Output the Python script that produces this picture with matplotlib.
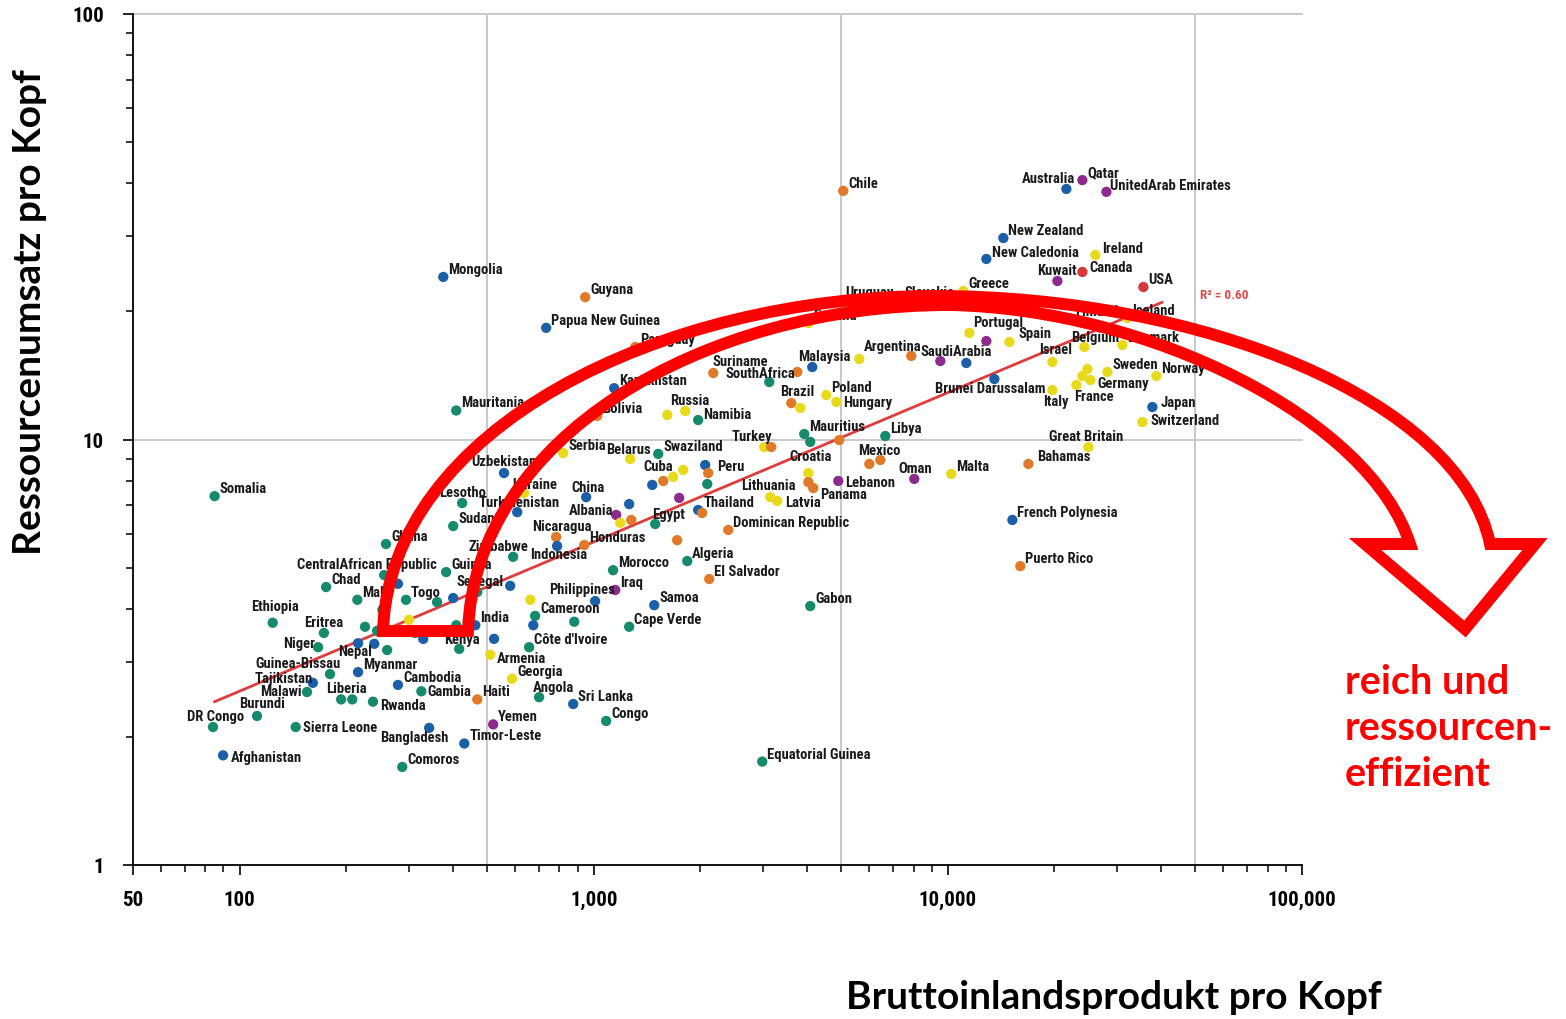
import numpy as np
import matplotlib
matplotlib.use("Agg")
import matplotlib.pyplot as plt
from matplotlib import font_manager
from matplotlib.path import Path
from matplotlib.patches import PathPatch
from matplotlib.transforms import Affine2D
from matplotlib.ticker import FixedLocator, LogLocator, NullFormatter

# ---- data (GDP per capita, resource use per capita, region) ----
countries = [
    "Somalia", "Mongolia", "Mauritania", "Guyana", "Papua New Guinea", "Paraguay",
    "Kazakhstan", "Bolivia", "Russia", "", "Namibia", "Suriname", "SouthAfrica", "",
    "Malaysia", "", "Argentina", "SaudiArabia", "", "Brazil", "", "Poland", "Hungary",
    "Chile", "Estonia", "Uruguay", "Slovakia", "", "Greece", "Portugal", "", "Spain",
    "New Caledonia", "New Zealand", "Australia", "Qatar", "UnitedArab Emirates",
    "Ireland", "Kuwait", "Canada", "USA", "Finland", "Iceland", "Belgium", "Denmark",
    "Israel", "Sweden", "Norway", "", "", "Germany", "France", "Italy",
    "Brunei Darussalam", "Japan", "Switzerland", "Great Britain", "Bahamas",
    "French Polynesia", "Puerto Rico", "Malta", "Oman", "Mexico", "", "Libya",
    "Mauritius", "", "", "Turkey", "", "Croatia", "", "Panama", "Lebanon",
    "Lithuania", "Latvia", "Gabon", "Equatorial Guinea", "", "Peru", "", "Cuba", "",
    "", "", "Swaziland", "Belarus", "Serbia", "Uzbekistan", "Ukraine", "China",
    "Lesotho", "Turkmenistan", "", "", "", "Albania", "", "Egypt", "Thailand", "",
    "Sudan", "Nicaragua", "Indonesia", "Honduras", "Dominican Republic", "",
    "Zimbabwe", "Ghana", "Guinea", "CentralAfrican Republic", "", "Chad", "Mali",
    "Togo", "", "", "Senegal", "", "Morocco", "Algeria", "El Salvador", "Iraq",
    "Philippines", "", "Cameroon", "", "", "Samoa", "Cape Verde", "India", "", "Kenya",
    "", "Côte d'Ivoire", "Armenia", "Georgia", "Angola", "Sri Lanka", "Congo", "Yemen",
    "Timor-Leste", "Haiti", "Gambia", "Cambodia", "Rwanda", "Bangladesh", "Comoros",
    "Afghanistan", "DR Congo", "Sierra Leone", "Burundi", "Liberia", "", "Malawi",
    "Tajikistan", "Guinea-Bissau", "Myanmar", "Niger", "Nepal", "", "", "Ethiopia",
    "Eritrea", "", "", "", "", "", "",
]
gdp = [
    85, 376, 409, 946, 734, 1310,
    1142, 1023, 1613, 1813, 1972, 2175, 3131, 3756,
    4141, 5621, 7882, 9521, 11274, 3613, 3830, 4535, 4841,
    5065, 4036, 6321, 9963, 12033, 11058, 11500, 12843, 14918,
    12843, 14345, 21607, 23976, 28032,
    26090, 20381, 23976, 35650, 23976, 32130, 24290, 31100,
    19724, 28213, 38800, 24770, 23976, 25260, 23060, 19724,
    13530, 37800, 35420, 24930, 16880,
    15210, 16020, 10226, 8038, 6000, 6445, 6658,
    3931, 4087, 4936, 3030, 3172, 4036, 4036, 4168, 4903,
    3150, 3298, 4087, 2991, 2064, 2105, 2092, 1571, 1677,
    1789, 1463, 1521, 1268, 820, 558, 636, 952,
    425, 608, 1259, 1743, 1157, 1188, 1276, 1491, 1972, 2024,
    401, 783, 788, 940, 2398, 1720,
    592, 259, 383, 256, 280, 175.5, 215,
    295, 361, 401, 469, 581, 1134, 1837, 2119, 1150,
    1009, 662, 683, 675, 881, 1482, 1259, 463, 523, 417,
    330, 657, 510, 588, 701, 875, 1084, 520,
    431, 469, 326, 280, 238, 343, 288,
    89.8, 84.1, 144, 112, 193.5, 208, 155,
    161, 180, 216, 166.6, 216, 240, 261, 124,
    173, 226, 244.5, 253, 301, 313, 409,
]
res = [
    7.36, 24.1, 11.7, 21.6, 18.3, 16.5,
    13.2, 11.36, 11.42, 11.67, 11.11, 14.33, 13.65, 14.41,
    14.8, 15.46, 15.72, 15.29, 15.13, 12.18, 11.86, 12.72, 12.25,
    38.4, 18.78, 20.37, 20.6, 20.71, 22.34, 17.8, 17.04, 16.95,
    26.56, 29.75, 38.8, 40.7, 38.2,
    27.14, 23.58, 24.76, 22.82, 18.78, 19.3, 16.5, 16.68,
    15.21, 14.41, 14.1, 14.64, 14.1, 13.8, 13.43, 13.07,
    13.87, 11.92, 10.99, 9.6, 8.76,
    6.47, 5.04, 8.3, 8.08, 8.76, 8.95, 10.19,
    10.3, 9.87, 9.97, 9.6, 9.6, 8.34, 7.94, 7.69, 7.99,
    7.32, 7.17, 4.06, 1.75, 8.71, 8.34, 7.86, 7.99, 8.17,
    8.48, 7.82, 9.25, 9.0, 9.29, 8.34, 7.48, 7.32,
    7.09, 6.75, 7.05, 7.29, 6.65, 6.37, 6.47, 6.33, 6.83, 6.72,
    6.26, 5.9, 5.62, 5.65, 6.13, 5.8,
    5.3, 5.68, 4.88, 4.8, 4.58, 4.5, 4.2,
    4.2, 4.15, 4.24, 4.38, 4.53, 4.93, 5.18, 4.7, 4.43,
    4.17, 4.2, 3.85, 3.66, 3.73, 4.08, 3.63, 3.66, 3.4, 3.22,
    3.4, 3.25, 3.12, 2.74, 2.48, 2.39, 2.18, 2.14,
    1.93, 2.45, 2.56, 2.65, 2.42, 2.1, 1.7,
    1.81, 2.11, 2.11, 2.24, 2.45, 2.45, 2.55,
    2.68, 2.81, 2.84, 3.25, 3.32, 3.31, 3.2, 3.71,
    3.51, 3.63, 3.55, 3.98, 3.77, 3.51, 3.66,
]
# af = Africa, as = Asia/Pacific, la = Latin America, eu = Europe,
# me = Middle East, na = North America
region = [
    "af", "as", "af", "la", "as", "la",
    "as", "la", "eu", "eu", "af", "la", "af", "la",
    "as", "eu", "la", "me", "as", "la", "eu", "eu", "eu",
    "la", "eu", "la", "eu", "eu", "eu", "eu", "me", "eu",
    "as", "as", "as", "me", "me",
    "eu", "me", "na", "na", "eu", "eu", "eu", "eu",
    "eu", "eu", "eu", "eu", "eu", "eu", "eu", "eu",
    "as", "as", "eu", "eu", "la",
    "as", "la", "eu", "me", "la", "la", "af",
    "af", "af", "la", "eu", "la", "eu", "la", "la", "me",
    "eu", "eu", "af", "af", "as", "la", "af", "la", "eu",
    "eu", "as", "af", "eu", "eu", "as", "eu", "as",
    "af", "as", "as", "me", "me", "eu", "la", "af", "as", "la",
    "af", "la", "as", "la", "la", "la",
    "af", "af", "af", "af", "as", "af", "af",
    "af", "af", "as", "af", "as", "af", "af", "la", "me",
    "as", "eu", "af", "as", "af", "as", "af", "as", "as", "af",
    "as", "af", "eu", "eu", "af", "as", "af", "me",
    "as", "la", "af", "as", "af", "as", "af",
    "as", "af", "af", "af", "af", "af", "af",
    "as", "af", "as", "af", "as", "as", "af", "af",
    "af", "af", "af", "af", "eu", "af", "af",
]
# trend line end points and fit quality
trend_x = [85, 40200]
trend_y = [2.42, 21.0]
r_squared = 0.60

x_ticks = [50, 100, 1000, 10000, 100000]
x_ticklabels = ["50", "100", "1,000", "10,000", "100,000"]
y_ticks = [1, 10, 100]
y_ticklabels = ["1", "10", "100"]

colors = {"af": "#168a6c", "as": "#1c5fa9", "la": "#e07a28",
          "eu": "#e9d91b", "me": "#8d2a8e", "na": "#d9383a"}

# label placement: (dx px, dy px, ha); default right-above the dot
label_pos = {
    "CentralAfrican Republic": (-17, 11, "center"), "Ethiopia": (2, 17, "center"),
    "Eritrea": (0, 11, "center"), "Niger": (-3, 4, "right"),
    "Nepal": (-3, -8, "center"), "Guinea-Bissau": (-32, 11, "center"),
    "Tajikistan": (0, 5, "right"), "Malawi": (-5, 1, "right"),
    "Liberia": (5, 11, "center"), "Burundi": (5, 13, "center"),
    "DR Congo": (3, 11, "center"), "Sierra Leone": (7, 0, "left"),
    "Rwanda": (7, -3, "left"), "Gambia": (6, 0, "left"),
    "Bangladesh": (-15, -9, "center"), "Afghanistan": (8, -2, "left"),
    "Angola": (-6, 10, "left"), "Armenia": (7, -3, "left"),
    "Kenya": (3, 10, "center"), "Philippines": (-13, 12, "center"),
    "Indonesia": (2, -8, "center"), "Nicaragua": (6, 11, "center"),
    "Zimbabwe": (-15, 11, "center"), "Senegal": (3, 11, "center"),
    "Lesotho": (0, 11, "center"), "Turkmenistan": (2, 10, "center"),
    "Uzbekistan": (0, 12, "center"), "Ukraine": (11, 9, "center"),
    "China": (2, 10, "center"), "Albania": (-7, 13, "right"),
    "Egypt": (-3, 10, "left"), "Lithuania": (-2, 12, "center"),
    "Latvia": (8, -1, "left"), "Panama": (7, -6, "left"),
    "Lebanon": (7, -1, "left"), "Croatia": (2, 17, "center"),
    "Peru": (9, 7, "left"), "Cuba": (-5, 15, "center"),
    "Belarus": (-2, 10, "center"), "Turkey": (-12, 11, "center"),
    "Mexico": (10, 14, "center"), "Oman": (1, 11, "center"),
    "Great Britain": (-2, 11, "center"), "Bahamas": (9, 8, "left"),
    "Japan": (8, 5, "left"), "Switzerland": (8, 2, "left"),
    "Italy": (4, -11, "center"), "France": (18, -11, "center"),
    "Germany": (7, -3, "left"), "Brunei Darussalam": (-4, -9, "center"),
    "Israel": (3, 13, "center"), "Belgium": (11, 10, "center"),
    "SaudiArabia": (16, 10, "center"), "Argentina": (-19, 10, "center"),
    "Malaysia": (12, 11, "center"), "Hungary": (7, 0, "left"),
    "Brazil": (6, 12, "center"), "Uruguay": (-8, 16, "center"),
    "Slovakia": (-18, 14, "center"), "Finland": (14, 12, "center"),
    "Kuwait": (0, 11, "center"), "Canada": (7, 5, "left"),
    "Australia": (-18, 11, "center"), "SouthAfrica": (-9, 9, "center"),
    "Suriname": (-1, 12, "left"), "Russia": (3, 15, "left"),
    "Namibia": (5, 6, "left"), "Ireland": (7, 7, "left"),
    "New Caledonia": (6, 7, "left"), "UnitedArab Emirates": (4, 7, "left"),
    "Spain": (9, 9, "left"), "Portugal": (4, 11, "left"),
}

installed = {f.name for f in font_manager.fontManager.ttflist}
narrow = "Roboto"
for cand in ["Liberation Sans Narrow", "DejaVu Sans Condensed", "Roboto Condensed"]:
    if cand in installed:
        narrow = cand
        break
big = "Lato" if "Lato" in installed else "DejaVu Sans"

fig = plt.figure(figsize=(15.66, 10.2), dpi=100)
ax = fig.add_axes([133 / 1566, 1 - 866 / 1020, (1302 - 133) / 1566, (866 - 15) / 1020])
ax.set_xscale("log")
ax.set_yscale("log")
ax.set_xlim(50, 100000)
ax.set_ylim(1, 100)

for s in ["top", "right"]:
    ax.spines[s].set_visible(False)
for s in ["left", "bottom"]:
    ax.spines[s].set_linewidth(1.3)

for gx in [500, 5000, 50000]:
    ax.axvline(gx, color="#c9c9c9", lw=1.4, zorder=0)
for gy in [10, 100]:
    ax.axhline(gy, color="#c9c9c9", lw=1.4, zorder=0, clip_on=False)

ax.xaxis.set_major_locator(FixedLocator(x_ticks))
ax.set_xticklabels(x_ticklabels)
ax.yaxis.set_major_locator(FixedLocator(y_ticks))
ax.set_yticklabels(y_ticklabels)
for axis in (ax.xaxis, ax.yaxis):
    axis.set_minor_locator(LogLocator(base=10, subs=np.arange(2, 10)))
    axis.set_minor_formatter(NullFormatter())
ax.tick_params(which="major", direction="out", length=7, width=1.2)
ax.tick_params(which="minor", direction="out", length=5, width=1.1)
ax.tick_params(axis="x", which="major", pad=11)
ax.tick_params(axis="y", which="major", pad=14)
for lab in ax.get_xticklabels() + ax.get_yticklabels():
    lab.set_fontfamily(narrow)
    lab.set_fontstretch("condensed")
    lab.set_fontweight("bold")
    lab.set_fontsize(15)

ax.plot(trend_x, trend_y, color="#e03c3c", lw=2, zorder=2)
ax.text(51650, 21.9, "R² = {:.2f}".format(r_squared), color="#e04a4a",
        fontsize=9.5, fontfamily=narrow, fontweight="bold", va="center")

ax.scatter(gdp, res, c=[colors[r] for r in region], s=55, edgecolors="none", zorder=3)

for name, gx, gy in zip(countries, gdp, res):
    if not name:
        continue
    dx, dy, ha = label_pos.get(name, (5, 8, "left"))
    ax.annotate(name, (gx, gy), xytext=(dx, dy), textcoords="offset pixels",
                ha=ha, va="center", fontsize=10.5, fontfamily=narrow,
                fontstretch="condensed", fontweight="bold", color="#1a1a1a",
                zorder=4)

# big red outline arrow, drawn in image pixels (origin top-left)
o_s, o_c1, o_c2, o_p = (383, 632), (390, 430), (660, 297), (935, 297)
o_c3, o_c4, o_e = (1200, 297), (1460, 400), (1490, 545)
i_s, i_c1, i_c2, i_p = (468, 632), (475, 440), (700, 306), (950, 306)
i_c3, i_c4, i_e = (1150, 310), (1370, 420), (1410, 545)
verts = [i_s, i_c1, i_c2, i_p, i_c3, i_c4, i_e,
         (1365, 545), (1465, 630), (1535, 545), o_e,
         o_c4, o_c3, o_p, o_c2, o_c1, o_s, i_s, i_s]
codes = ([Path.MOVETO] + [Path.CURVE4] * 6 + [Path.LINETO] * 4 +
         [Path.CURVE4] * 6 + [Path.LINETO, Path.CLOSEPOLY])
px = Affine2D().scale(1, -1).translate(0, 1020)
arrow = PathPatch(Path(verts, codes), facecolor="none", edgecolor="#ff0000",
                  lw=8.6, joinstyle="miter", transform=px, zorder=10)
fig.add_artist(arrow)

fig.text(1345 / 1566, 1 - 729 / 1020, "reich und\nressourcen-\neffizient",
         color="#ff0000", fontsize=28.5, fontweight="bold", fontfamily=big,
         ha="left", va="center", linespacing=1.3)
fig.text(30 / 1566, 1 - 312 / 1020, "Ressourcenumsatz pro Kopf", rotation=90,
         fontsize=28, fontweight="bold", fontfamily=big, ha="center", va="center")
fig.text(1114 / 1566, 1 - 998 / 1020, "Bruttoinlandsprodukt pro Kopf",
         fontsize=28, fontweight="bold", fontfamily=big, ha="center", va="center")

fig.savefig("out.png", dpi=100)
